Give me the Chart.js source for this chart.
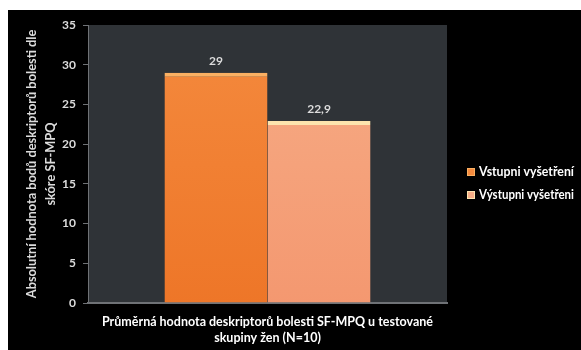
<!DOCTYPE html>
<html>
<head>
<meta charset="utf-8">
<script src="https://cdn.jsdelivr.net/npm/chart.js@4/dist/chart.umd.min.js"></script>
<style>
  html, body { margin: 0; padding: 0; background: #ffffff; }
  #wrap { position: absolute; left: 8px; top: 10px; width: 573px; height: 340px; background: #000000; }
</style>
</head>
<body>
<div id="wrap"><canvas id="chart"></canvas></div>
<script>
// data
const categories = [''];
const seriesNames = ['Vstupni vyšetření', 'Výstupni vyšetřeni'];
const entryValues = [29];
const exitValues = [22.9];
const valueLabels = [['29'], ['22,9']];
const yTicks = [0, 5, 10, 15, 20, 25, 30, 35];

const FONT = 'Lato, "Open Sans", sans-serif';
const TEXT = '#dcdcdc';

// colours of the two bars: [top, bottom, bevel]
const palette = [
  ['#f48a3e', '#ee7628', '#fbb062'],
  ['#f6ac86', '#f49870', '#fde4ae'],
];

function barFill(idx) {
  return function (ctx) {
    const area = ctx.chart.chartArea;
    if (!area) return palette[idx][0];
    const g = ctx.chart.ctx.createLinearGradient(0, area.top, 0, area.bottom);
    g.addColorStop(0, palette[idx][0]);
    g.addColorStop(1, palette[idx][1]);
    return g;
  };
}

// dark plot background
const plotBg = {
  id: 'plotBg',
  beforeDraw(chart) {
    const { ctx, chartArea: a } = chart;
    ctx.save();
    ctx.fillStyle = '#2f3337';
    ctx.fillRect(a.left, a.top, a.right - a.left, a.bottom - a.top);
    ctx.restore();
  }
};

// value labels above bars
const barLabels = {
  id: 'barLabels',
  afterDatasetsDraw(chart) {
    const ctx = chart.ctx;
    ctx.save();
    ctx.font = 'bold 12px ' + FONT;
    ctx.fillStyle = TEXT;
    ctx.textAlign = 'center';
    ctx.textBaseline = 'middle';
    chart.data.datasets.forEach((ds, i) => {
      chart.getDatasetMeta(i).data.forEach((bar, j) => {
        ctx.fillText(valueLabels[i][j], bar.x, bar.y - 12);
      });
    });
    ctx.restore();
  }
};

// legend on the right, beside the plot
const sideLegend = {
  id: 'sideLegend',
  afterDraw(chart) {
    const ctx = chart.ctx;
    const a = chart.chartArea;
    const x = a.right + 20;
    const y0 = (a.top + a.bottom) / 2 + 8;
    ctx.save();
    ctx.font = 'bold 12.5px ' + FONT;
    ctx.textBaseline = 'middle';
    chart.data.datasets.forEach((ds, i) => {
      const y = y0 + i * 23;
      ctx.fillStyle = palette[i][0];
      ctx.fillRect(x, y - 4, 8, 8);
      ctx.strokeStyle = palette[i][2];
      ctx.lineWidth = 1;
      ctx.strokeRect(x + 0.5, y - 3.5, 7, 7);
      ctx.fillStyle = '#ffffff';
      ctx.fillText(ds.label, x + 12, y, 95);
    });
    ctx.restore();
  }
};

new Chart(document.getElementById('chart'), {
  type: 'bar',
  data: {
    labels: categories,
    datasets: [
      {
        label: seriesNames[0],
        data: entryValues,
        backgroundColor: barFill(0),
        borderColor: palette[0][2],
        borderWidth: { top: 4, left: 0, right: 0, bottom: 0 },
        borderSkipped: false,
      },
      {
        label: seriesNames[1],
        data: exitValues,
        backgroundColor: barFill(1),
        borderColor: palette[1][2],
        borderWidth: { top: 4, left: 0, right: 0, bottom: 0 },
        borderSkipped: false,
      }
    ]
  },
  options: {
    responsive: true,
    maintainAspectRatio: false,
    animation: false,
    layout: { padding: { top: 15, right: 134, left: 15, bottom: 4 } },
    datasets: { bar: { categoryPercentage: 0.574, barPercentage: 1 } },
    plugins: {
      tooltip: { enabled: false },
      legend: { display: false }
    },
    scales: {
      x: {
        afterFit(axis) { axis.height = 43; },
        grid: { display: false },
        border: { color: '#6f7276', width: 2 },
        ticks: { display: false },
        title: {
          display: true,
          text: ['Průměrná hodnota deskriptorů bolesti SF-MPQ u testované', 'skupiny žen (N=10)'],
          color: '#ffffff',
          font: { family: FONT, size: 12.5, weight: 'bold', lineHeight: 1.3 },
          padding: { top: 10, bottom: 0 }
        }
      },
      y: {
        min: 0,
        max: 35,
        afterFit(axis) { axis.width = 65; },
        afterBuildTicks(axis) { axis.ticks = yTicks.map(v => ({ value: v })); },
        grid: { drawOnChartArea: false, drawTicks: true, tickLength: 5, color: '#6f7276' },
        border: { color: '#6f7276', width: 1 },
        ticks: {
          color: TEXT,
          padding: 7,
          font: { family: FONT, size: 12, weight: 'bold' }
        },
        title: {
          display: true,
          text: ['Absolutní hodnota bodů deskriptorů bolesti dle', 'skóre SF-MPQ'],
          color: TEXT,
          font: { family: FONT, size: 12.8, weight: 'bold', lineHeight: 1.45 },
          padding: { top: 0, bottom: 1 }
        }
      }
    }
  },
  plugins: [plotBg, barLabels, sideLegend]
});
</script>
</body>
</html>
